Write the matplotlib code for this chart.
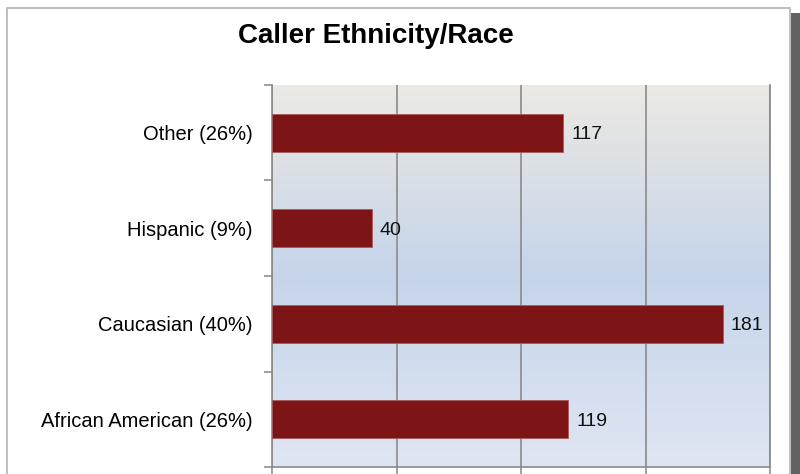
import numpy as np
import matplotlib.pyplot as plt
from matplotlib.colors import LinearSegmentedColormap
from matplotlib.patches import Rectangle

plt.rcParams['font.family'] = ['Liberation Sans', 'DejaVu Sans']

categories = ['African American (26%)', 'Caucasian (40%)', 'Hispanic (9%)', 'Other (26%)']
counts = [119, 181, 40, 117]
title = 'Caller Ethnicity/Race'

fig = plt.figure(figsize=(8, 4.74), dpi=100)
fig.patch.set_facecolor('white')

# outer frame + right shadow
fig.patches.append(Rectangle((7 / 800, -0.1), 783 / 800, 1.1 - 8 / 474, transform=fig.transFigure,
                             fill=False, edgecolor='#b4b4b4', linewidth=1.2, zorder=0))
fig.patches.append(Rectangle((791 / 800, -0.1), 9 / 800, 1.1 - 13 / 474, transform=fig.transFigure,
                             facecolor='#626262', edgecolor='none', zorder=0))

ax = fig.add_axes([272 / 800, 1 - 467 / 474, (770 - 272) / 800, (467 - 85) / 474])

# gradient background of the plot area
cmap = LinearSegmentedColormap.from_list('bg', [(0, '#dfe6f3'), (0.5, '#c6d4ea'), (1, '#eceae3')])
grad = np.linspace(0, 1, 256).reshape(-1, 1)
ax.imshow(grad, aspect='auto', cmap=cmap, origin='lower',
          extent=[0, 200, -0.5, len(categories) - 0.5], zorder=0)

y = np.arange(len(categories))
ax.barh(y, counts, height=0.4, color='#7d1517', edgecolor='#a65a5c', linewidth=0.6, zorder=3)

for yi, v in zip(y, counts):
    ax.text(v + 3.2, yi, str(v), va='center_baseline', ha='left', fontsize=14, color='#111111', zorder=4)

ax.set_xlim(0, 200)
ax.set_ylim(-0.5, len(categories) - 0.5)
ax.set_xticks([0, 50, 100, 150, 200])
ax.set_xticklabels([])
ax.set_yticks(y)
ax.set_yticklabels(categories, fontsize=14.5)
ax.set_yticks(np.arange(-0.5, len(categories)), minor=True)
ax.tick_params(axis='y', which='major', length=0, pad=14)
ax.tick_params(axis='y', which='minor', length=6, width=1.1, color='#888888')
ax.tick_params(axis='x', length=7, width=1.1, color='#888888')
ax.grid(axis='x', color='#8a8a8a', linewidth=1.2, zorder=1)
ax.set_axisbelow(True)

for s in ['top']:
    ax.spines[s].set_visible(False)
for s in ['left', 'bottom', 'right']:
    ax.spines[s].set_color('#8a8a8a')
    ax.spines[s].set_linewidth(1.2)

fig.text(376 / 800, 1 - 36 / 474, title, ha='center', va='center', fontsize=20, fontweight='bold')

plt.savefig('out.png', dpi=100)
